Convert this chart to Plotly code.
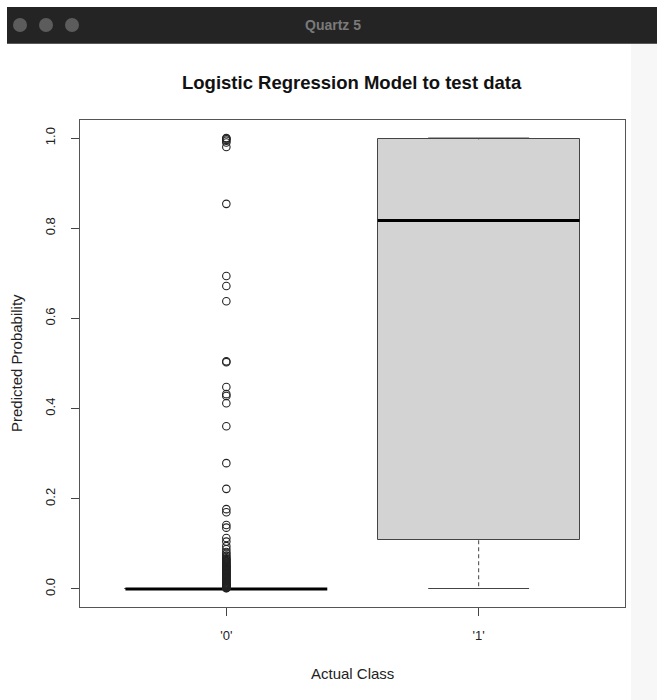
import plotly.graph_objects as go

# ---------------- data ----------------
categories = ["'0'", "'1'"]
positions = [1, 2]
q1 = [0.0, 0.108]
median = [0.0, 0.817]
q3 = [0.0, 0.997]
lower_fence = [0.0, 0.001]
upper_fence = [0.0, 1.0]

outliers_class0 = [
    1.000, 0.999, 0.997, 0.994, 0.990, 0.980,
    0.854,
    0.694, 0.672, 0.638,
    0.505, 0.503,
    0.448, 0.432, 0.428, 0.412,
    0.361, 0.279, 0.222,
    0.177, 0.170, 0.142, 0.136, 0.113,
    0.105, 0.095, 0.088, 0.082, 0.078, 0.074, 0.071, 0.068, 0.066,
    0.064, 0.062, 0.060, 0.058, 0.056, 0.054, 0.052, 0.051, 0.049,
    0.048, 0.046, 0.045, 0.043, 0.042, 0.040, 0.039, 0.037, 0.036,
    0.034, 0.033, 0.031, 0.030, 0.028, 0.027, 0.025, 0.024, 0.022,
    0.021, 0.019, 0.018, 0.016, 0.015, 0.013, 0.012, 0.011, 0.010,
    0.009, 0.008, 0.007, 0.006, 0.005, 0.004, 0.003, 0.002, 0.0015,
]

y_ticks = [0.0, 0.2, 0.4, 0.6, 0.8, 1.0]
y_ticklabels = ["0.0", "0.2", "0.4", "0.6", "0.8", "1.0"]

# ---------------- geometry helpers ----------------
W, H = 657, 700
BOX_W = 0.8
CAP_W = 0.4
FONT = "Liberation Sans, Arial, Helvetica, sans-serif"

def px(xp):
    return xp / W

def py(yp):
    return 1 - yp / H

fig = go.Figure()

# whiskers (dashed)
wx, wy = [], []
for p, a, b, lo, hi in zip(positions, q1, q3, lower_fence, upper_fence):
    wx += [p, p, None, p, p, None]
    wy += [b, hi, None, a, lo, None]
fig.add_trace(go.Scatter(x=wx, y=wy, mode="lines",
                         line=dict(color="#444", width=1, dash="4px,3px"),
                         hoverinfo="skip", showlegend=False))

# whisker caps
cx, cy = [], []
for p, lo, hi in zip(positions, lower_fence, upper_fence):
    cx += [p - CAP_W / 2, p + CAP_W / 2, None, p - CAP_W / 2, p + CAP_W / 2, None]
    cy += [hi, hi, None, lo, lo, None]
fig.add_trace(go.Scatter(x=cx, y=cy, mode="lines",
                         line=dict(color="#444", width=1),
                         hoverinfo="skip", showlegend=False))

# boxes
fig.add_trace(go.Bar(x=positions, y=[b - a for a, b in zip(q1, q3)], base=q1,
                     width=BOX_W,
                     marker=dict(color="#d3d3d3", line=dict(color="#444", width=1)),
                     hoverinfo="skip", showlegend=False))

# medians
mx, my = [], []
for p, m in zip(positions, median):
    mx += [p - BOX_W / 2, p + BOX_W / 2, None]
    my += [m, m, None]
fig.add_trace(go.Scatter(x=mx, y=my, mode="lines",
                         line=dict(color="black", width=3),
                         hoverinfo="skip", showlegend=False))

# outliers
fig.add_trace(go.Scatter(x=[positions[0]] * len(outliers_class0), y=outliers_class0,
                         mode="markers",
                         marker=dict(symbol="circle-open", size=7.5,
                                     color="#222", line=dict(width=1.1)),
                         hoverinfo="y", showlegend=False))

# ---------------- layout ----------------
x_dom = [px(80), px(625)]
y_dom = [py(607), py(120)]

fig.update_layout(
    width=W, height=H,
    margin=dict(l=0, r=0, t=0, b=0),
    paper_bgcolor="white",
    plot_bgcolor="white",
    bargap=0,
    font=dict(family=FONT, color="#222"),
    xaxis=dict(domain=x_dom, range=[0.42, 2.58], tickvals=positions,
               ticktext=categories, ticks="outside", ticklen=8,
               tickcolor="#444", showgrid=False, zeroline=False,
               showline=True, mirror=True, linecolor="#555", linewidth=1,
               tickfont=dict(size=13, color="#222"), ticklabelstandoff=8,
               fixedrange=True),
    yaxis=dict(domain=y_dom, range=[-0.04, 1.04], tickvals=y_ticks,
               ticktext=y_ticklabels, ticks="outside", ticklen=8,
               tickcolor="#444", showgrid=False, zeroline=False,
               showline=True, mirror=True, linecolor="#555", linewidth=1,
               tickangle=-90, tickfont=dict(size=13, color="#222"),
               ticklabelstandoff=11, fixedrange=True),
    shapes=[
        # right light strip of window
        dict(type="rect", xref="paper", yref="paper", x0=px(631), x1=1,
             y0=0, y1=py(44), fillcolor="#f7f7f7", line=dict(width=0),
             layer="below"),
        # title bar
        dict(type="rect", xref="paper", yref="paper", x0=px(7), x1=1,
             y0=py(44), y1=py(7), fillcolor="#242424", line=dict(width=0)),
        dict(type="line", xref="paper", yref="paper", x0=px(7), x1=1,
             y0=py(43.5), y1=py(43.5), line=dict(color="#5a5a5a", width=1)),
        # traffic lights
        *[dict(type="circle", xref="paper", yref="paper",
               x0=px(cxp - 7), x1=px(cxp + 7), y0=py(32), y1=py(18),
               fillcolor="#5c5c5c", line=dict(width=0))
          for cxp in (20, 46, 72)],
    ],
    annotations=[
        dict(text="<b>Quartz 5</b>", x=px(333), y=py(25), xref="paper", yref="paper",
             showarrow=False, font=dict(size=14, color="#7a7a7a", family=FONT),
             xanchor="center", yanchor="middle"),
        dict(text="<b>Logistic Regression Model to test data</b>",
             x=px(352), y=py(83), xref="paper", yref="paper", showarrow=False,
             font=dict(size=18.5, color="#111", family=FONT),
             xanchor="center", yanchor="middle"),
        dict(text="Actual Class", x=px(352), y=py(673), xref="paper",
             yref="paper", showarrow=False,
             font=dict(size=15, color="#222", family=FONT),
             xanchor="center", yanchor="middle"),
        dict(text="Predicted Probability", x=px(16), y=py(363), xref="paper",
             yref="paper", showarrow=False, textangle=-90,
             font=dict(size=15, color="#222", family=FONT),
             xanchor="center", yanchor="middle"),
    ],
)

fig.write_html("out.html")
